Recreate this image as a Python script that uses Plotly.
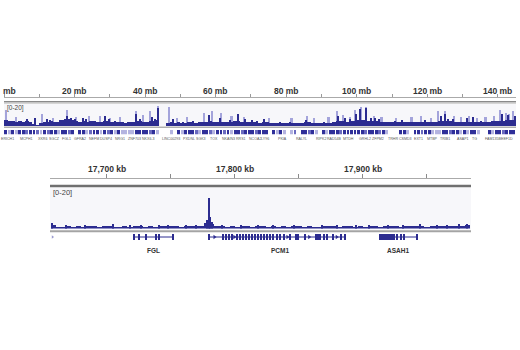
import plotly.graph_objects as go

W, H = 520, 350


def py(p):
    """Pixel row -> paper fraction."""
    return 1 - p / H


def px(p):
    """Pixel column -> paper fraction."""
    return p / W


# ---------------- chromosome 8 overview (Mb) ----------------
chrom_len_mb = 145.14
ruler_ticks_mb = list(range(0, 150, 10))
ruler_labels_mb = [20, 40, 60, 80, 100, 120, 140]

# mean signal per 1 Mb bin
coverage_mb = [
    6, 5, 5, 4, 5, 4, 5, 4, 2, 1.5,
    3, 4, 4, 5, 4, 4, 6, 6, 7, 6,
    5, 4, 5, 4, 5, 5, 4, 4, 5, 5,
    4, 4, 4, 4, 3, 4, 4, 5, 5, 4,
    4, 5, 5, 6, 0, 0, 3, 4, 3, 4,
    3, 3, 4, 4, 3, 4, 4, 4, 5, 4,
    4, 4, 4, 4, 4, 5, 5, 4, 4, 4,
    4, 4, 3, 4, 4, 3, 3, 3, 3, 3,
    3, 3, 3, 3, 3, 4, 4, 3, 3, 3,
    3, 3, 3, 4, 5, 5, 5, 4, 5, 5,
    6, 6, 6, 5, 5, 5, 4, 4, 4, 4,
    4, 4, 4, 4, 4, 4, 4, 4, 4, 4,
    4, 4, 4, 5, 5, 5, 5, 4, 4, 4,
    4, 4, 4, 4, 4, 4, 4, 4, 5, 5,
    5, 5, 6, 6, 6,
]

# window maxima (light) and narrow mean peaks (dark)
max_peak_mb = [0.6, 3.5, 10.8, 14.0, 17.8, 20.5, 24.0, 27.2, 30.0, 33.0,
               37.4, 39.5, 41.4, 43.6, 46.7, 49.0, 52.0, 56.7, 58.9, 61.5,
               64.5, 68.0, 75.0, 81.5, 85.8, 88.0, 92.0, 94.3, 96.0, 98.0,
               99.4, 101.1, 102.6, 104.8, 107.0, 111.0, 115.5, 118.1, 121.0,
               123.0, 125.0, 127.5, 129.5, 131.7, 134.0, 136.5, 138.8, 140.5,
               142.2, 143.2, 144.2]
max_peak_val = [15, 9, 12, 8, 15, 9, 10, 10, 8, 9,
                14, 11, 14, 19, 18, 8, 9, 13, 14, 13,
                10, 9, 8, 8, 10, 8, 9, 14, 11, 9,
                15, 18, 18, 10, 9, 8, 9, 10, 8,
                14, 14, 10, 9, 10, 8, 9, 10, 15,
                13, 12, 14]

mean_peak_mb = [6.5, 8.8, 12.2, 13.0, 15.9, 17.3, 17.8, 19.0, 20.1, 22.4,
                23.2, 24.9, 28.6, 29.7, 31.4, 37.4, 38.5, 41.9, 42.8, 43.6,
                47.9, 50.7, 53.5, 58.1, 61.2, 64.0, 66.3, 68.3, 70.3, 71.7,
                73.9, 78.2, 81.0, 85.8, 90.9, 94.6, 96.6, 98.0, 99.7, 101.1,
                101.7, 102.8, 104.2, 105.1, 106.5, 110.8, 113.0, 117.0, 119.5,
                123.8, 125.2, 125.8, 127.2, 131.2, 133.1, 135.4, 141.1, 142.8,
                144.8]
mean_peak_val = [7, 8, 7, 6, 6, 7, 10, 8, 7, 8,
                 7, 5, 10, 7, 5, 12, 7, 9, 7, 17,
                 7, 4, 5, 11, 8, 6, 12, 7, 6, 5,
                 7, 4, 4, 6, 4, 10, 8, 7, 12, 16,
                 6, 17, 8, 8, 7, 5, 6, 4, 6,
                 10, 12, 7, 7, 8, 9, 5, 12, 11,
                 10]

# RefSeq gene density per 1 Mb bin (0 none, 1 sparse, 2 medium, 3 dense)
gene_density = [
    3, 1, 3, 1, 3, 3, 2, 3, 3, 2,
    1, 3, 2, 3, 3, 1, 3, 3, 2, 3,
    0, 3, 3, 1, 2, 3, 3, 1, 3, 2,
    3, 1, 3, 1, 1, 1, 1, 3, 3, 3,
    3, 2, 3, 1, 0, 0, 0, 1, 0, 3,
    1, 3, 3, 3, 2, 1, 3, 3, 2, 1,
    3, 3, 2, 3, 1, 3, 3, 2, 3, 3,
    3, 2, 3, 3, 3, 0, 3, 1, 3, 1,
    0, 1, 2, 0, 3, 3, 2, 3, 1, 0,
    3, 1, 3, 3, 3, 2, 3, 3, 3, 3,
    3, 3, 2, 3, 3, 3, 2, 3, 1, 0,
    0, 0, 3, 3, 1, 0, 3, 3, 2, 3,
    3, 1, 1, 1, 3, 3, 2, 3, 3, 1,
    3, 1, 3, 3, 1, 0, 0, 3, 1, 3,
    3, 2, 3, 3, 3,
]
density_colors = ["rgba(0,0,0,0)", "#b4b4e0", "#6a6abf", "#2f2f99"]

gene_label_names = ["ERICH1", "MCPH1", "XKR6", "SGCZ", "FGL1", "GFRA2", "NEFM",
                    "DUSP4", "NRG1", "ZNF703", "NKX6-3", "LINC00293", "PXDNL",
                    "SGK3", "TOX", "NKAIN3", "RRS1", "NCOA2", "LY96", "PKIA",
                    "RALYL", "RIPK2", "RAD54B", "MTDH", "GRHL2", "ZFPM2",
                    "TRHR", "CSMD3", "EXT1", "MTBP", "TRIB1", "ASAP1", "TG",
                    "FAM135B", "EEF1D"]
gene_label_mb = [0.9, 6.5, 11.0, 14.4, 17.8, 21.5, 25.5,
                 28.9, 32.9, 37.1, 41.0, 47.3, 52.4,
                 55.8, 59.5, 63.5, 67.1, 71.1, 73.9, 79.0,
                 84.4, 89.8, 93.8, 97.7, 102.3, 106.0,
                 110.2, 113.9, 117.6, 121.5, 125.0, 130.0, 133.4,
                 138.5, 142.5]

# ---------------- PCM1 locus (kb) ----------------
locus_start_kb = 17655.5
locus_end_kb = 17984.4
locus_ticks_kb = [17700, 17750, 17800, 17850, 17900, 17950]
locus_labels_kb = [17700, 17800, 17900]
locus_bin_kb = 4
locus_bin_start_kb = 17656
locus_cov = [
    1.8, 1.2, 1.0, 1.3, 1.1, 1.4, 1.0, 1.3, 1.4, 1.1,
    1.3, 1.5, 1.2, 1.1, 1.4, 1.2, 1.5, 1.3, 1.1, 1.4,
    1.2, 1.4, 1.5, 1.3, 1.4, 1.2, 1.5, 1.4, 1.6, 1.5,
    2.8, 2.6, 1.6, 1.4, 1.2, 1.4, 1.1, 1.3, 1.4, 1.2,
    1.5, 1.3, 1.1, 1.4, 1.2, 1.4, 1.1, 1.3, 1.5, 1.2,
    1.4, 1.2, 1.1, 1.4, 1.3, 1.5, 1.2, 1.4, 1.3, 1.1,
    1.4, 1.2, 1.5, 1.4, 1.2, 1.3, 1.4, 1.5, 1.2, 1.4,
    1.3, 1.5, 1.4, 1.2, 1.4, 1.5, 1.3, 1.4, 1.3, 1.5,
    1.7, 1.9,
]
locus_peak_kb = [17657.0, 17668.0, 17683.0, 17704.7, 17718.0, 17727.0, 17741.0,
                 17748.0, 17762.0, 17770.0, 17778.6, 17779.7, 17780.8, 17782.5,
                 17790.0, 17805.0, 17818.0, 17830.0, 17846.0, 17868.0, 17880.0,
                 17895.0, 17905.0, 17920.0, 17931.0, 17945.0, 17958.0, 17966.0,
                 17975.0, 17981.0]
locus_peak_val = [3.0, 1.9, 2.0, 2.3, 1.9, 2.0, 2.0,
                  1.9, 2.1, 2.0, 4.5, 15.0, 6.0, 3.5,
                  2.1, 1.9, 2.0, 2.0, 1.9, 2.1, 2.0,
                  1.9, 1.9, 2.0, 1.9, 2.2, 2.0, 1.9,
                  2.2, 2.6]

locus_genes = ["FGL", "PCM1", "ASAH1"]
locus_gene_start = [17721.3, 17779.7, 17913.3]
locus_gene_end = [17751.6, 17886.7, 17942.2]
locus_gene_label_kb = [17736.0, 17835.0, 17927.3]
locus_exons = [
    [17721.3, 17725.0, 17730.5, 17738.3, 17740.9, 17751.6],
    [17779.7, 17790.9, 17793.0, 17795.3, 17797.7, 17801.6, 17803.9, 17806.3,
     17808.6, 17810.9, 17813.3, 17815.6, 17818.0, 17820.3, 17822.7, 17825.0,
     17827.3, 17829.7, 17832.8, 17835.2, 17838.3, 17843.0, 17847.7, 17849.2,
     17854.7, 17863.3, 17864.8, 17866.4, 17869.5, 17871.9, 17876.6, 17882.8,
     17886.0],
    [17913.3, 17914.8, 17916.4, 17918.0, 17919.5, 17921.1, 17922.7, 17924.2,
     17926.6, 17929.7, 17932.0, 17942.2],
]
pcm1_strand_marks_kb = [17784.0, 17799.5, 17841.0, 17858.0, 17879.5]

DARK = "#2c2c90"
LIGHT = "#a4a4db"
FONT = "Liberation Sans Narrow, Liberation Sans, Arial, sans-serif"

fig = go.Figure()

# --- overview signal ---
fig.add_trace(go.Bar(x=max_peak_mb, y=max_peak_val, width=0.6,
                     marker=dict(color=LIGHT, line_width=0),
                     xaxis="x2", yaxis="y2"))
fig.add_trace(go.Bar(x=[i + 0.5 for i in range(len(coverage_mb))], y=coverage_mb,
                     width=1.0, marker=dict(color=DARK, line_width=0),
                     xaxis="x2", yaxis="y2"))
fig.add_trace(go.Bar(x=mean_peak_mb, y=mean_peak_val, width=0.4,
                     marker=dict(color=DARK, line_width=0),
                     xaxis="x2", yaxis="y2"))

# --- overview gene density (barcode) ---
fig.add_trace(go.Bar(x=[i + 0.5 for i in range(len(gene_density))],
                     y=[1] * len(gene_density), width=0.82,
                     marker=dict(color=[density_colors[d] for d in gene_density],
                                 line_width=0),
                     xaxis="x3", yaxis="y3"))

# --- locus signal ---
fig.add_trace(go.Bar(x=[locus_bin_start_kb + locus_bin_kb * (i + 0.5)
                        for i in range(len(locus_cov))],
                     y=locus_cov, width=locus_bin_kb,
                     marker=dict(color=DARK, line_width=0),
                     xaxis="x5", yaxis="y5"))
fig.add_trace(go.Bar(x=locus_peak_kb, y=locus_peak_val, width=1.0,
                     marker=dict(color=DARK, line_width=0),
                     xaxis="x5", yaxis="y5"))

# --- locus gene models ---
for g0, g1 in zip(locus_gene_start, locus_gene_end):
    fig.add_trace(go.Scatter(x=[g0, g1], y=[0.5, 0.5], mode="lines",
                             line=dict(color=DARK, width=1),
                             xaxis="x6", yaxis="y6"))
exon_x = [e for ex in locus_exons for e in ex]
fig.add_trace(go.Bar(x=exon_x, y=[1] * len(exon_x), width=0.9,
                     marker=dict(color=DARK, line_width=0),
                     xaxis="x6", yaxis="y6"))
fig.add_trace(go.Scatter(x=pcm1_strand_marks_kb, y=[0.5] * len(pcm1_strand_marks_kb),
                         mode="markers",
                         marker=dict(symbol="triangle-right", size=4, color=DARK),
                         xaxis="x6", yaxis="y6"))
fig.add_trace(go.Scatter(x=[17657.5], y=[0.5], mode="markers",
                         marker=dict(symbol="triangle-right", size=3, color="#9a9ad0"),
                         xaxis="x6", yaxis="y6"))

hidden = dict(visible=False, showgrid=False, zeroline=False, fixedrange=True)
top_dom = [px(4), px(516)]
bot_dom = [px(50), px(471)]

layout = dict(
    width=W, height=H, margin=dict(l=0, r=0, t=0, b=0),
    paper_bgcolor="white", plot_bgcolor="rgba(0,0,0,0)",
    showlegend=False, barmode="overlay", bargap=0,
    font=dict(family=FONT, color="#333333"),
    xaxis=dict(domain=top_dom, range=[0, chrom_len_mb], anchor="y", side="top",
               tickvals=ruler_ticks_mb, ticktext=[""] * len(ruler_ticks_mb),
               ticks="outside", ticklen=3, tickcolor="#9a9a9a", tickwidth=1,
               showline=True, linecolor="#aaaaaa", linewidth=1,
               showgrid=False, zeroline=False, fixedrange=True),
    yaxis=dict(domain=[py(99), py(97.7)], **hidden),
    xaxis2=dict(domain=top_dom, range=[0, chrom_len_mb], anchor="y2", **hidden),
    yaxis2=dict(domain=[py(126), py(104.5)], range=[0, 20], **hidden),
    xaxis3=dict(domain=top_dom, range=[0, chrom_len_mb], anchor="y3", **hidden),
    yaxis3=dict(domain=[py(134.3), py(129.7)], range=[0, 1], **hidden),
    xaxis4=dict(domain=bot_dom, range=[locus_start_kb, locus_end_kb], anchor="y4",
                side="top", tickvals=locus_ticks_kb,
                ticktext=[""] * len(locus_ticks_kb),
                ticks="outside", ticklen=4, tickcolor="#8a8a8a", tickwidth=1,
                showline=True, linecolor="#aaaaaa", linewidth=1,
                showgrid=False, zeroline=False, fixedrange=True),
    yaxis4=dict(domain=[py(180), py(179)], **hidden),
    xaxis5=dict(domain=bot_dom, range=[locus_start_kb, locus_end_kb], anchor="y5", **hidden),
    yaxis5=dict(domain=[py(228.5), py(187.5)], range=[0, 20], **hidden),
    xaxis6=dict(domain=bot_dom, range=[locus_start_kb, locus_end_kb], anchor="y6", **hidden),
    yaxis6=dict(domain=[py(240), py(234)], range=[0, 1], **hidden),
)
fig.update_layout(**layout)


def hline(x0, x1, y, color, width):
    fig.add_shape(type="line", xref="paper", yref="paper",
                  x0=px(x0), x1=px(x1), y0=py(y), y1=py(y),
                  line=dict(color=color, width=width), layer="above")


def band(x0, x1, y0, y1, color):
    fig.add_shape(type="rect", xref="paper", yref="paper",
                  x0=px(x0), x1=px(x1), y0=py(y1), y1=py(y0),
                  fillcolor=color, line_width=0, layer="below")


# track frames
band(4, 516, 103.5, 126, "#f7f7fa")
hline(4, 516, 101.7, "#8a8a8a", 1.5)
hline(4, 516, 103.2, "#c4c4c4", 1)
hline(4, 516, 127.2, "#b0b0b0", 1.5)

band(50, 471, 187.5, 229.5, "#f7f7fa")
hline(50, 471, 186, "#707070", 2.5)
hline(50, 471, 231.3, "#a4a4a4", 2)

ann = []
# ruler labels
ann.append(dict(text="mb", x=px(9.5), y=py(90.5), xref="paper", yref="paper",
                showarrow=False, xanchor="center", yanchor="middle",
                font=dict(size=8.5, weight="bold", color="#333")))
for v in ruler_labels_mb:
    ann.append(dict(text=f"{v} mb", x=v, y=py(90.5), xref="x", yref="paper",
                    showarrow=False, xanchor="center", yanchor="middle",
                    font=dict(size=8.5, weight="bold", color="#333")))
for v in locus_labels_kb:
    ann.append(dict(text=f"{v:,} kb", x=v, y=py(168.5), xref="x4", yref="paper",
                    showarrow=False, xanchor="center", yanchor="middle",
                    font=dict(size=8.5, weight="bold", color="#333")))
# data ranges
ann.append(dict(text="[0-20]", x=px(5), y=py(107.8), xref="paper", yref="paper",
                showarrow=False, xanchor="left", yanchor="middle",
                font=dict(size=6.5, color="#444", family="Liberation Sans, Arial")))
ann.append(dict(text="[0-20]", x=px(51), y=py(193), xref="paper", yref="paper",
                showarrow=False, xanchor="left", yanchor="middle",
                font=dict(size=7.5, color="#444", family="Liberation Sans, Arial")))
# overview gene names
for name, pos in zip(gene_label_names, gene_label_mb):
    ann.append(dict(text=name, x=pos, y=py(138.6), xref="x3", yref="paper",
                    showarrow=False, xanchor="center", yanchor="middle",
                    font=dict(size=3.6, color="#555", family="Liberation Sans, Arial")))
# locus gene names
for name, pos in zip(locus_genes, locus_gene_label_kb):
    ann.append(dict(text=name, x=pos, y=py(250.5), xref="x6", yref="paper",
                    showarrow=False, xanchor="center", yanchor="middle",
                    font=dict(size=6.5, weight="bold", color="#333")))
fig.update_layout(annotations=ann)

fig.write_html("out.html")
